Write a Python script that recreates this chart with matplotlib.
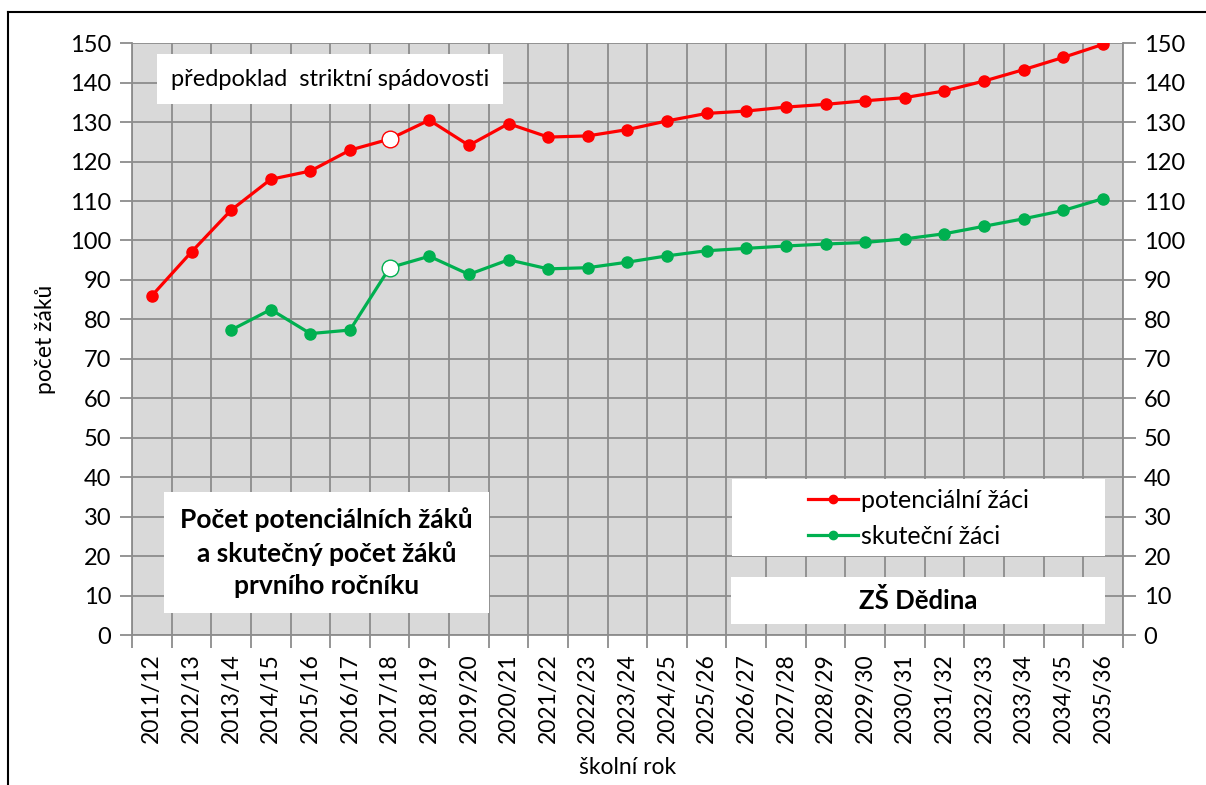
import numpy as np
import matplotlib.pyplot as plt
from matplotlib.lines import Line2D

plt.rcParams['font.family'] = ['Lato', 'DejaVu Sans']

roky = ['2011/12', '2012/13', '2013/14', '2014/15', '2015/16', '2016/17', '2017/18',
        '2018/19', '2019/20', '2020/21', '2021/22', '2022/23', '2023/24', '2024/25',
        '2025/26', '2026/27', '2027/28', '2028/29', '2029/30', '2030/31', '2031/32',
        '2032/33', '2033/34', '2034/35', '2035/36']
potencialni = [86.0, 97.1, 107.7, 115.5, 117.6, 122.9, 125.7, 130.5, 124.1, 129.6,
               126.2, 126.5, 128.1, 130.3, 132.2, 132.8, 133.8, 134.5, 135.4, 136.2,
               137.9, 140.4, 143.3, 146.4, 149.7]
skutecni = [np.nan, np.nan, 77.3, 82.5, 76.4, 77.3, 93.1, 96.0, 91.4, 95.1,
            92.8, 93.1, 94.5, 96.1, 97.4, 98.0, 98.6, 99.1, 99.5, 100.4,
            101.7, 103.6, 105.5, 107.6, 110.6]
zvyrazneny = 6  # 2017/18

cervena = '#ff0000'
zelena = '#00b050'

fig = plt.figure(figsize=(12.06, 7.85), dpi=100)
ax = fig.add_axes([0.1095, 0.191, 0.8215, 0.754])
ax.set_facecolor('#d9d9d9')

x = np.arange(len(roky))
ax.plot(x, potencialni, '-o', color=cervena, lw=2.3, ms=8, zorder=3)
ax.plot(x, skutecni, '-o', color=zelena, lw=2.3, ms=8, zorder=3)
ax.plot(x[zvyrazneny], potencialni[zvyrazneny], 'o', ms=12, mfc='white', mec=cervena, mew=1, zorder=4)
ax.plot(x[zvyrazneny], skutecni[zvyrazneny], 'o', ms=12, mfc='white', mec=zelena, mew=1, zorder=4)

ax.set_xlim(-0.5, len(roky) - 0.5)
ax.set_ylim(0, 150)
ax.set_yticks(np.arange(0, 151, 10))
ax.set_xticks(x)
ax.set_xticklabels(roky, rotation=90, fontsize=16.5)
ax.set_xticks(np.arange(-0.5, len(roky)), minor=True)
ax.tick_params(axis='x', which='major', length=0, pad=13)
ax.tick_params(axis='x', which='minor', length=9, color='#8c8c8c', width=1.3)
ax.tick_params(axis='y', length=9, color='#8c8c8c', width=1.3, labelsize=17,
               left=True, right=True, labelleft=True, labelright=True, pad=6)
ax.grid(True, which='minor', axis='x', color='#8c8c8c', lw=1.3)
ax.grid(True, which='major', axis='y', color='#8c8c8c', lw=1.3)
ax.set_axisbelow(True)
for s in ax.spines.values():
    s.set_color('#8c8c8c')
    s.set_linewidth(1.3)
ax.spines['top'].set_visible(False)

ax.set_ylabel('počet žáků', fontsize=16.5, labelpad=10)
ax.set_xlabel('školní rok', fontsize=16.5, labelpad=10)

ax.text(4.5, 140.9, 'předpoklad  striktní spádovosti', fontsize=17, va='center', ha='center',
        bbox=dict(boxstyle='square,pad=0.6', fc='white', ec='none'), zorder=5)
ax.text(4.41, 20.9, 'Počet potenciálních žáků\na skutečný počet žáků\nprvního ročníku',
        fontsize=19, fontweight='bold', ha='center', va='center', linespacing=1.4,
        bbox=dict(boxstyle='square,pad=0.6', fc='white', ec='none'), zorder=5)

# legenda a název školy
ax.add_patch(plt.Rectangle((14.65, 20.0), 9.4, 19.5, fc='white', ec='none', zorder=5))
ax.add_patch(plt.Rectangle((14.62, 2.8), 9.43, 11.9, fc='white', ec='none', zorder=5))
ax.text(19.33, 8.7, 'ZŠ Dědina', fontsize=18.5, fontweight='bold', ha='center', va='center', zorder=6)
handles = [Line2D([], [], color=cervena, marker='o', lw=2.3, ms=6),
           Line2D([], [], color=zelena, marker='o', lw=2.3, ms=6)]
ax.legend(handles, ['potenciální žáci', 'skuteční žáci'], loc='center left',
          bbox_to_anchor=(0.66, 0.197), frameon=False, fontsize=18,
          handlelength=2.0, handletextpad=0.1, labelspacing=0.5).set_zorder(7)

# rámeček kolem grafu
fig.add_artist(Line2D([0.0067, 0.0067], [0, 0.985], color='black', lw=1.5))
fig.add_artist(Line2D([0.0067, 1.0], [0.985, 0.985], color='black', lw=1.5))

fig.savefig('out.png', dpi=100)
